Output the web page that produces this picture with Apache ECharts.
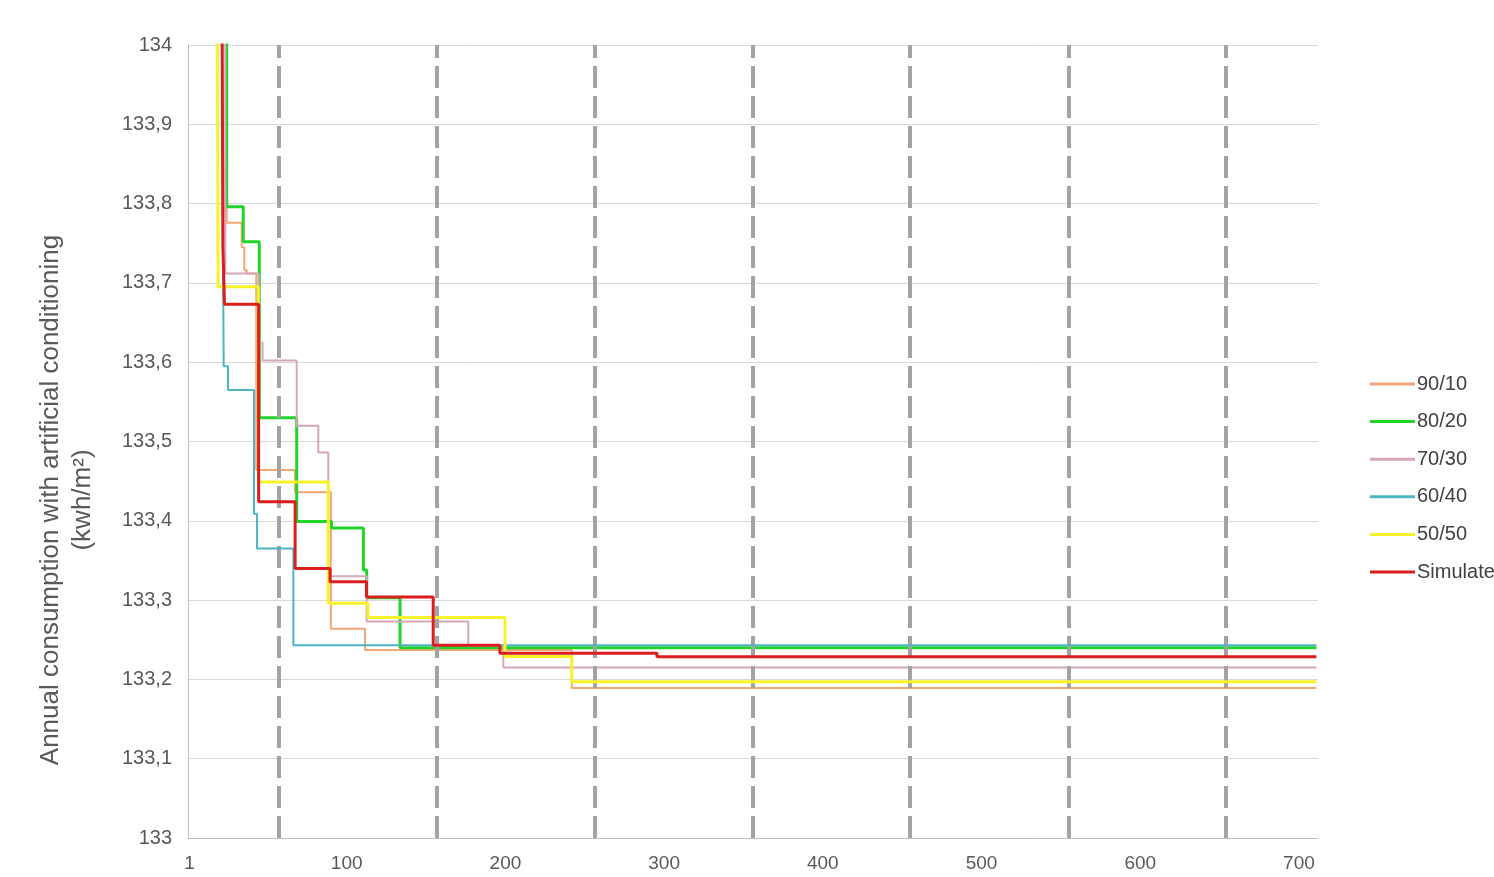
<!DOCTYPE html>
<html>
<head>
<meta charset="utf-8">
<script src="https://cdn.jsdelivr.net/npm/echarts@6/dist/echarts.min.js"></script>
<style>
  html, body { margin: 0; padding: 0; background: #ffffff; }
  #chart { width: 1494px; height: 877px; }
</style>
</head>
<body>
<div id="chart"></div>
<script>
// Best annual consumption found so far, per iteration, for each weighting.
// Each pair is [iteration, value]; the curve holds the value until the next pair.
const series9010 = [[21, 134.3], [24.4, 133.776], [33.8, 133.745], [35.5, 133.716], [37, 133.712],
  [43, 133.464], [67.4, 133.436], [90, 133.264], [111.5, 133.237], [241.8, 133.189], [711, 133.189]];
const series8020 = [[21, 134.3], [24.4, 133.796], [34.8, 133.752], [44.9, 133.530], [68.5, 133.399],
  [90.5, 133.391], [110.5, 133.338], [112.6, 133.303], [133.6, 133.240], [711, 133.240]];
const series7030 = [[21, 134.3], [23.5, 133.712], [44.5, 133.625], [47, 133.602], [68.5, 133.520],
  [82.1, 133.486], [88.4, 133.330], [112.6, 133.273], [176.6, 133.242], [198.7, 133.215], [711, 133.215]];
const series6040 = [[21, 134.3], [22, 133.745], [22.5, 133.595], [25.2, 133.565], [41.6, 133.409],
  [43.5, 133.365], [66.4, 133.243], [711, 133.243]];
const series5050 = [[18, 134.3], [19, 133.695], [44.3, 133.449], [88.4, 133.296], [113.4, 133.278],
  [199.7, 133.229], [241.8, 133.197], [711, 133.197]];
const seriesSimulated = [[21, 134.3], [22, 133.745], [23, 133.673], [44.5, 133.424], [67.5, 133.340],
  [89.5, 133.323], [112.5, 133.304], [154.5, 133.243], [196.5, 133.233], [295.5, 133.2285], [711, 133.2285]];

const seriesNames = ['90/10', '80/20', '70/30', '60/40', '50/50', 'Simulated'];
const xLabels = [1, 100, 200, 300, 400, 500, 600, 700];
const dashMarks = [57, 157, 256, 356, 455, 555, 654];
const axisTitle = 'Annual consumption with artificial conditioning\n(kwh/m\u00B2)';

const colors = ['#F2A875', '#22D42A', '#D6A6BA', '#4DB4C2', '#F8F22A', '#DA1E1E'];
const widths = [2, 3, 2, 2, 3, 3];
const dataSets = [series9010, series8020, series7030, series6040, series5050, seriesSimulated];

const chart = echarts.init(document.getElementById('chart'), null, { renderer: 'canvas' });

const fontFamily = '"Liberation Sans", Arial, sans-serif';

const series = dataSets.map((d, i) => {
  const s = {
    name: seriesNames[i],
    type: 'line',
    step: 'end',
    data: d,
    symbol: 'none',
    showSymbol: false,
    clip: true,
    color: colors[i],
    lineStyle: { color: colors[i], width: widths[i] },
    z: 2 + i
  };
  if (i === dataSets.length - 1) {
    // dashed vertical markers, drawn above the curves
    s.markLine = {
      silent: true,
      symbol: ['none', 'none'],
      label: { show: false },
      lineStyle: { color: '#a3a3a3', width: 4, type: [22, 8] },
      emphasis: { disabled: true },
      data: dashMarks.map(x => ({ xAxis: x }))
    };
  }
  return s;
});

chart.setOption({
  animation: false,
  backgroundColor: '#ffffff',
  textStyle: { fontFamily: fontFamily },
  grid: {
    left: 188, right: 176, top: 45, bottom: 39,
    containLabel: false,
    outerBoundsMode: 'none'
  },
  graphic: [{
    type: 'text',
    x: 67,
    y: 500,
    rotation: Math.PI / 2,
    style: {
      text: axisTitle,
      fill: '#595959',
      font: '26px "Liberation Sans", Arial, sans-serif',
      lineHeight: 32,
      align: 'center',
      verticalAlign: 'middle'
    }
  }],
  legend: {
    orient: 'vertical',
    left: 1365,
    top: 369,
    icon: 'rect',
    itemWidth: 45,
    itemHeight: 3,
    itemGap: 17.6,
    data: seriesNames,
    textStyle: { color: '#404040', fontSize: 20, fontFamily: fontFamily, lineHeight: 20, padding: [0, 0, 0, -3] },
    selectedMode: false
  },
  xAxis: {
    type: 'value',
    min: 0,
    max: 712,
    axisLine: { show: true, lineStyle: { color: '#bfbfbf', width: 1 } },
    axisTick: { show: false },
    splitLine: { show: false },
    axisLabel: {
      customValues: xLabels,
      color: '#595959',
      fontSize: 19,
      margin: 16,
      fontFamily: fontFamily
    }
  },
  yAxis: {
    type: 'value',
    min: 133,
    max: 134,
    interval: 0.1,
    axisLine: { show: true, lineStyle: { color: '#bfbfbf', width: 1 } },
    axisTick: { show: false },
    splitLine: { show: true, lineStyle: { color: '#d9d9d9', width: 1 } },
    axisLabel: {
      color: '#595959',
      fontSize: 20,
      margin: 16,
      fontFamily: fontFamily,
      formatter: v => String(Number(v.toFixed(1))).replace('.', ',')
    }
  },
  series: series
});
</script>
</body>
</html>
